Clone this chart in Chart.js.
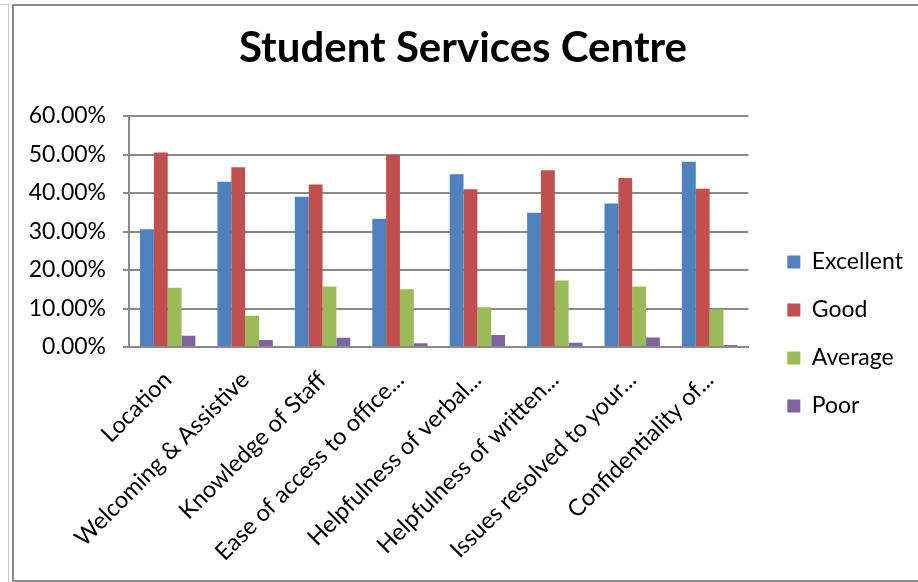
<!DOCTYPE html>
<html>
<head>
<meta charset="utf-8">
<script src="https://cdn.jsdelivr.net/npm/chart.js@4"></script>
<style>
  html, body { margin: 0; padding: 0; background: #fff; }
  body { width: 918px; height: 582px; position: relative; overflow: hidden; }
  .frame-outer { position: absolute; left: 8px; top: 4px; width: 1px; height: 578px; background: #c8c8c8; }
  .frame-outer-top { position: absolute; left: 0; top: 4px; width: 9px; height: 1px; background: #c8c8c8; }
  .frame { position: absolute; left: 12px; top: 4px; width: 920px; height: 574px;
           border-left: 2px solid #8a8a8a; border-top: 2px solid #8a8a8a; border-bottom: 2px solid #8a8a8a; }
  #chart { position: absolute; left: 0; top: 0; }
</style>
</head>
<body>
<div class="frame-outer"></div>
<div class="frame-outer-top"></div>
<div class="frame"></div>
<canvas id="chart" width="918" height="582"></canvas>
<script>
const categories = [
  'Location',
  'Welcoming & Assistive',
  'Knowledge of Staff',
  'Ease of access to office...',
  'Helpfulness of verbal...',
  'Helpfulness of written...',
  'Issues resolved to your...',
  'Confidentiality of...'
];
const excellent = [30.6, 42.9, 39.0, 33.3, 44.9, 34.9, 37.3, 48.1];
const good      = [50.5, 46.7, 42.2, 49.9, 41.0, 45.9, 43.9, 41.1];
const average   = [15.4,  8.1, 15.7, 15.0, 10.3, 17.3, 15.7,  9.8];
const poor      = [ 2.9,  1.8,  2.4,  1.0,  3.1,  1.1,  2.5,  0.5];
const seriesNames = ['Excellent', 'Good', 'Average', 'Poor'];
const seriesColors = ['#4F81BD', '#C0504D', '#9BBB59', '#8064A2'];

const FONT = 'Lato, "Open Sans", sans-serif';
const GRID = '#8a8a8a';

new Chart(document.getElementById('chart'), {
  type: 'bar',
  data: {
    labels: categories,
    datasets: [excellent, good, average, poor].map((values, i) => ({
      label: seriesNames[i],
      data: values,
      backgroundColor: seriesColors[i],
      borderWidth: 0,
      categoryPercentage: 0.715,
      barPercentage: 1.0
    }))
  },
  options: {
    responsive: false,
    animation: false,
    layout: { padding: { left: 14, right: 6, top: 6, bottom: 0 } },
    plugins: {
      title: {
        display: true,
        text: 'Student Services Centre',
        color: '#000',
        font: { family: FONT, size: 42, weight: 'bold' },
        padding: { top: 17, bottom: 42.6 }
      },
      legend: {
        position: 'right',
        align: 'start',
        // empty legend heading used only as a spacer above the items
        title: { display: true, text: ' ', font: { family: FONT, size: 10 }, padding: { top: 207.5, bottom: 0 } },
        labels: {
          color: '#000',
          font: { family: FONT, size: 23 },
          boxWidth: 13,
          boxHeight: 13,
          padding: 25
        }
      },
      tooltip: { enabled: false }
    },
    scales: {
      x: {
        grid: { display: false },
        border: { display: true, color: GRID, width: 2 },
        ticks: {
          color: '#000',
          font: { family: FONT, size: 23.5 },
          maxRotation: 45,
          minRotation: 45,
          autoSkip: false,
          padding: 11
        },
        afterFit(scale) { scale.height = 235; }
      },
      y: {
        min: 0,
        max: 60,
        grid: { color: GRID, lineWidth: 2, tickLength: 6, drawTicks: true },
        border: { display: true, color: GRID, width: 2 },
        ticks: {
          stepSize: 10,
          color: '#000',
          font: { family: FONT, size: 23 },
          padding: 17,
          callback: v => v.toFixed(2) + '%'
        },
        afterFit(scale) { scale.width = 115; }
      },
      gap: {
        position: 'right',
        display: true,
        grid: { display: false, drawTicks: false },
        border: { display: false },
        ticks: { display: false },
        afterFit(scale) { scale.width = 14; }
      }
    }
  }
});
</script>
</body>
</html>
